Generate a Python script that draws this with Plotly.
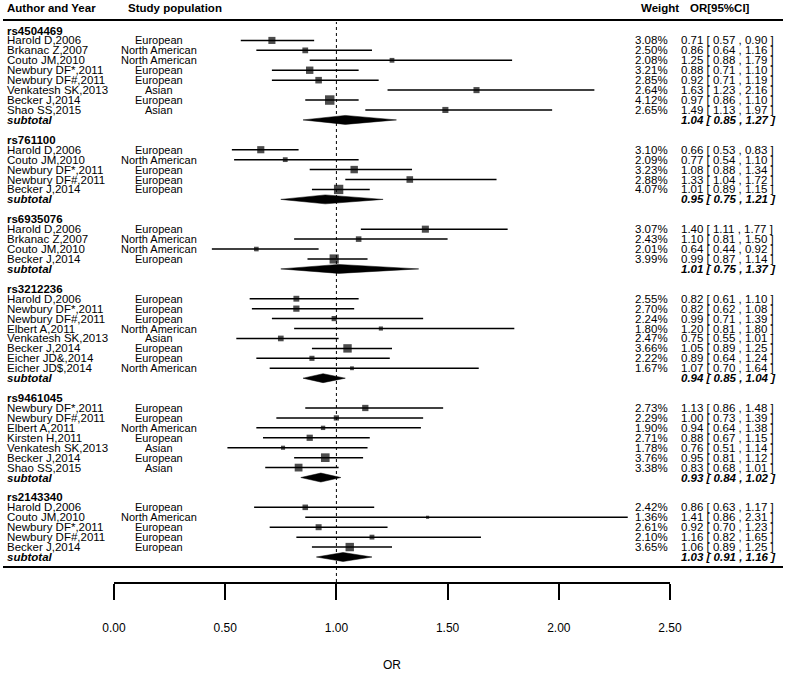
import plotly.graph_objects as go

# ---------------- data ----------------
snps = ["rs4504469", "rs761100", "rs6935076", "rs3212236", "rs9461045", "rs2143340"]

study_snp = [0]*8 + [1]*5 + [2]*4 + [3]*8 + [4]*7 + [5]*5
study_author = [
    "Harold D,2006", "Brkanac Z,2007", "Couto JM,2010", "Newbury DF*,2011", "Newbury DF#,2011",
    "Venkatesh SK,2013", "Becker J,2014", "Shao SS,2015",
    "Harold D,2006", "Couto JM,2010", "Newbury DF*,2011", "Newbury DF#,2011", "Becker J,2014",
    "Harold D,2006", "Brkanac Z,2007", "Couto JM,2010", "Becker J,2014",
    "Harold D,2006", "Newbury DF*,2011", "Newbury DF#,2011", "Elbert A,2011", "Venkatesh SK,2013",
    "Becker J,2014", "Eicher JD&,2014", "Eicher JD$,2014",
    "Newbury DF*,2011", "Newbury DF#,2011", "Elbert A,2011", "Kirsten H,2011", "Venkatesh SK,2013",
    "Becker J,2014", "Shao SS,2015",
    "Harold D,2006", "Couto JM,2010", "Newbury DF*,2011", "Newbury DF#,2011", "Becker J,2014",
]
study_population = [
    "European", "North American", "North American", "European", "European", "Asian", "European", "Asian",
    "European", "North American", "European", "European", "European",
    "European", "North American", "North American", "European",
    "European", "European", "European", "North American", "Asian", "European", "European", "North American",
    "European", "European", "North American", "European", "Asian", "European", "Asian",
    "European", "North American", "European", "European", "European",
]
study_weight = [
    3.08, 2.50, 2.08, 3.21, 2.85, 2.64, 4.12, 2.65,
    3.10, 2.09, 3.23, 2.88, 4.07,
    3.07, 2.43, 2.01, 3.99,
    2.55, 2.70, 2.24, 1.80, 2.47, 3.66, 2.22, 1.67,
    2.73, 2.29, 1.90, 2.71, 1.78, 3.76, 3.38,
    2.42, 1.36, 2.61, 2.10, 3.65,
]
study_or = [
    0.71, 0.86, 1.25, 0.88, 0.92, 1.63, 0.97, 1.49,
    0.66, 0.77, 1.08, 1.33, 1.01,
    1.40, 1.10, 0.64, 0.99,
    0.82, 0.82, 0.99, 1.20, 0.75, 1.05, 0.89, 1.07,
    1.13, 1.00, 0.94, 0.88, 0.76, 0.95, 0.83,
    0.86, 1.41, 0.92, 1.16, 1.06,
]
study_lo = [
    0.57, 0.64, 0.88, 0.71, 0.71, 1.23, 0.86, 1.13,
    0.53, 0.54, 0.88, 1.04, 0.89,
    1.11, 0.81, 0.44, 0.87,
    0.61, 0.62, 0.71, 0.81, 0.55, 0.89, 0.64, 0.70,
    0.86, 0.73, 0.64, 0.67, 0.51, 0.81, 0.68,
    0.63, 0.86, 0.70, 0.82, 0.89,
]
study_hi = [
    0.90, 1.16, 1.79, 1.10, 1.19, 2.16, 1.10, 1.97,
    0.83, 1.10, 1.34, 1.72, 1.15,
    1.77, 1.50, 0.92, 1.14,
    1.10, 1.08, 1.39, 1.80, 1.01, 1.25, 1.24, 1.64,
    1.48, 1.39, 1.38, 1.15, 1.14, 1.12, 1.01,
    1.17, 2.31, 1.23, 1.65, 1.25,
]
subtotal_or = [1.04, 0.95, 1.01, 0.94, 0.93, 1.03]
subtotal_lo = [0.85, 0.75, 0.75, 0.85, 0.84, 0.91]
subtotal_hi = [1.27, 1.21, 1.37, 1.04, 1.02, 1.16]

x_ticks = [0.0, 0.5, 1.0, 1.5, 2.0, 2.5]

# ---------------- layout constants ----------------
W, H = 787, 676
PLOT_L, PLOT_R = 114, 670          # x of OR 0 and OR 2.5
PLOT_BOTTOM = 582                  # y of the OR axis line
ROW0_PX, ROW_PX = 30.5, 9.934      # first row centre, row spacing

FONT = "Liberation Sans, Arial, sans-serif"
FS = 11.5
BLACK = "#000000"


def px_x(p):
    return (p - PLOT_L) / (PLOT_R - PLOT_L)


def px_y(p):
    return (PLOT_BOTTOM - p) / PLOT_BOTTOM


# ---------------- rows ----------------
header_rows, study_rows, subtotal_rows = [], [], []
row = 0
for g in range(len(snps)):
    header_rows.append(row)
    row += 1
    for i, s in enumerate(study_snp):
        if s == g:
            study_rows.append(row)
            row += 1
    subtotal_rows.append(row)
    row += 2

fig = go.Figure()

# study boxes with CI whiskers
fig.add_trace(go.Scatter(
    x=study_or, y=study_rows, mode="markers",
    marker=dict(symbol="square", color=BLACK, size=[w * 2.3 for w in study_weight], line=dict(width=0)),
    error_x=dict(type="data", symmetric=False,
                 array=[h - o for h, o in zip(study_hi, study_or)],
                 arrayminus=[o - l for o, l in zip(study_or, study_lo)],
                 color=BLACK, thickness=1.5, width=0),
    cliponaxis=False, hoverinfo="skip", showlegend=False,
))

# subtotal diamonds
half = 0.45
for o, l, h, r in zip(subtotal_or, subtotal_lo, subtotal_hi, subtotal_rows):
    fig.add_trace(go.Scatter(
        x=[l, o, h, o, l], y=[r, r - half, r, r + half, r],
        mode="lines", fill="toself", fillcolor=BLACK,
        line=dict(color=BLACK, width=0.5), cliponaxis=False,
        hoverinfo="skip", showlegend=False,
    ))

# reference line at OR = 1
fig.add_shape(type="line", xref="x", yref="paper", x0=1, x1=1, y0=0, y1=px_y(22),
              line=dict(color=BLACK, width=1, dash="dot"))

# horizontal separators
for yy, wdt in [(20, 2), (567, 2)]:
    fig.add_shape(type="line", xref="paper", yref="paper",
                  x0=px_x(3), x1=px_x(783), y0=px_y(yy), y1=px_y(yy),
                  line=dict(color=BLACK, width=wdt))

ann = []


def text(x, y, t, anchor="left", bold=False, italic=False, yref="y", size=FS):
    s = t
    if bold:
        s = "<b>" + s + "</b>"
    if italic:
        s = "<i>" + s + "</i>"
    ann.append(dict(x=x, y=y, xref="paper", yref=yref, text=s, showarrow=False,
                    xanchor=anchor, yanchor="middle", font=dict(family=FONT, size=size, color=BLACK)))


# column headers
hy = px_y(8)
text(px_x(5), hy, "Author and Year", bold=True, yref="paper")
text(px_x(126), hy, "Study population", bold=True, yref="paper")
text(px_x(681), hy, "Weight", anchor="right", bold=True, yref="paper")
text(px_x(688), hy, "OR[95%CI]", bold=True, yref="paper")

AUTH_X = px_x(5)
POP_X = px_x(159)
WT_X = px_x(670)
OR_X = px_x(679)

for g, snp in enumerate(snps):
    text(AUTH_X, header_rows[g], snp, bold=True)
    text(AUTH_X, subtotal_rows[g], "subtotal", bold=True, italic=True)
    text(OR_X, subtotal_rows[g],
         f"{subtotal_or[g]:.2f} [ {subtotal_lo[g]:.2f} , {subtotal_hi[g]:.2f} ]", bold=True, italic=True)

for i in range(len(study_author)):
    r = study_rows[i]
    text(AUTH_X, r, study_author[i])
    text(POP_X, r, study_population[i], anchor="center", size=11)
    text(WT_X, r, f"{study_weight[i]:.2f}%", anchor="right")
    text(OR_X, r, f"{study_or[i]:.2f} [ {study_lo[i]:.2f} , {study_hi[i]:.2f} ]")

AX_FONT = dict(family="Liberation Sans Narrow, Liberation Sans, Arial", size=12, color=BLACK)
fig.update_layout(
    width=W, height=H,
    margin=dict(l=PLOT_L, r=W - PLOT_R, t=0, b=H - PLOT_BOTTOM, pad=0),
    paper_bgcolor="white", plot_bgcolor="white",
    annotations=ann,
    xaxis=dict(range=[0, 2.5], tickvals=x_ticks, tickformat=".2f",
               showline=True, linecolor=BLACK, linewidth=1.5,
               ticks="outside", ticklen=16, tickwidth=1.5, tickcolor=BLACK,
               ticklabelstandoff=18, showgrid=False, zeroline=False,
               tickfont=AX_FONT,
               title=dict(text="OR", standoff=26, font=AX_FONT)),
    yaxis=dict(range=[(PLOT_BOTTOM - ROW0_PX) / ROW_PX, -ROW0_PX / ROW_PX],
               visible=False, showgrid=False, zeroline=False),
)

fig.write_html("out.html", config={"displayModeBar": False},
               post_script="document.body.style.margin='0px';")
